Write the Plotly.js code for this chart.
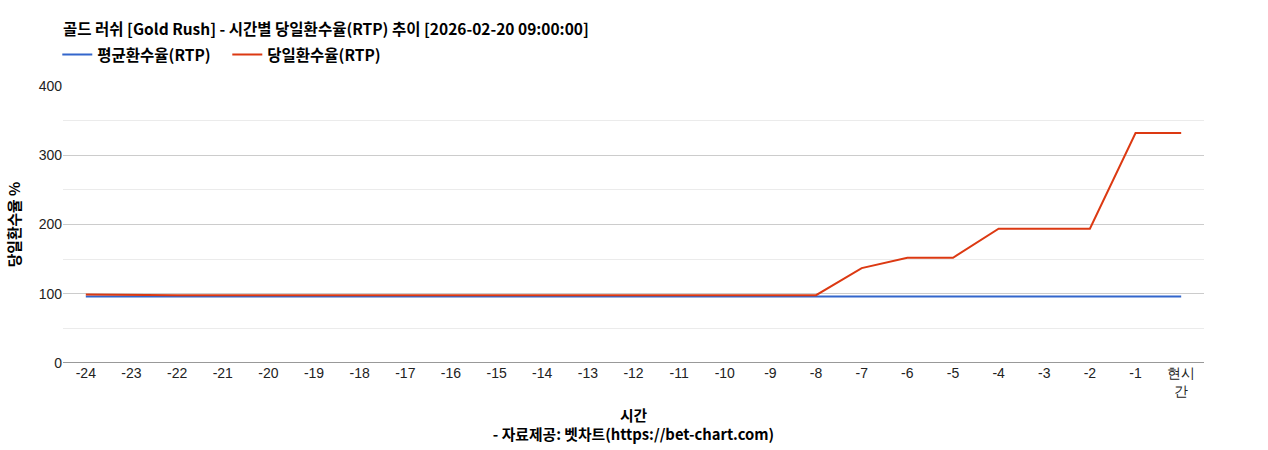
<!DOCTYPE html>
<html>
<head>
<meta charset="utf-8">
<script src="https://cdn.plot.ly/plotly-3.0.1.min.js"></script>
<style>html,body{margin:0;padding:0;background:#fff;}#chart{width:1268px;height:450px;}</style>
</head>
<body>
<div id="chart"></div>
<script>
const categories = ['-24','-23','-22','-21','-20','-19','-18','-17','-16','-15','-14','-13','-12','-11','-10','-9','-8','-7','-6','-5','-4','-3','-2','-1','현시<br>간'];
const avgRTP = [96,96,96,96,96,96,96,96,96,96,96,96,96,96,96,96,96,96,96,96,96,96,96,96,96];
const dailyRTP = [99,98,98,98,98,98,98,98,98,98,98,98,98,98,98,98,98,137,152,152,194,194,194,332,332];
const seriesNames = ['평균환수율(RTP)','당일환수율(RTP)'];
const yTicks = [0,100,200,300,400];

const kfont = '"Noto Sans CJK KR", "Noto Sans", sans-serif';
const tfont = 'Liberation Sans, Arial, sans-serif';
const traces = [
  {x: categories, y: avgRTP, name: '<b>' + seriesNames[0] + '</b>', type: 'scatter', mode: 'lines',
   line: {color: '#3366cc', width: 2}},
  {x: categories, y: dailyRTP, name: '<b>' + seriesNames[1] + '</b>', type: 'scatter', mode: 'lines',
   line: {color: '#dc3912', width: 2}}
];
const layout = {
  width: 1268, height: 450,
  margin: {l: 63, r: 64, t: 86, b: 87},
  paper_bgcolor: '#fff', plot_bgcolor: '#fff',
  title: {text: '<b>골드 러쉬 [Gold Rush] - 시간별 당일환수율(RTP) 추이 [2026-02-20 09:00:00]</b>',
    x: 63/1268, xanchor: 'left', y: 1 - 30/450, yanchor: 'middle', yref: 'container',
    font: {family: kfont, size: 15.5, color: '#000'}},
  showlegend: true,
  legend: {orientation: 'h', x: -0.005, xanchor: 'left', y: 1 + 31/277, yanchor: 'middle',
    font: {family: kfont, size: 15.5, color: '#000'}, itemwidth: 30, traceorder: 'normal',
    entrywidth: 125, entrywidthmode: 'pixels'},
  xaxis: {type: 'category', range: [-0.5, 24.5], showgrid: false, zeroline: false,
    showline: false, ticks: '', tickfont: {family: tfont, size: 14, color: '#222'},
    tickangle: 0,
    title: {text: '<b>시간</b><br><b>- 자료제공: 벳차트(https://bet-chart.com)</b>', standoff: 12,
      font: {family: kfont, size: 14.8, color: '#000'}}},
  yaxis: {range: [0, 400], tickvals: yTicks, ticktext: yTicks.map(String),
    showgrid: true, gridcolor: '#cccccc', gridwidth: 1, zeroline: false,
    showline: false, ticks: '',
    minor: {tickvals: [50,150,250,350], showgrid: true, gridcolor: '#ebebeb', gridwidth: 1},
    tickfont: {family: tfont, size: 14, color: '#222'},
    title: {text: '<b>당일환수율 %</b>', standoff: 14, font: {family: kfont, size: 14.8, color: '#000'}}},
  shapes: [{type: 'line', xref: 'paper', yref: 'y', x0: 0, x1: 1, y0: 0, y1: 0,
    line: {color: '#333', width: 1}}]
};
Plotly.newPlot('chart', traces, layout, {displayModeBar: false, staticPlot: true});
</script>
</body>
</html>
